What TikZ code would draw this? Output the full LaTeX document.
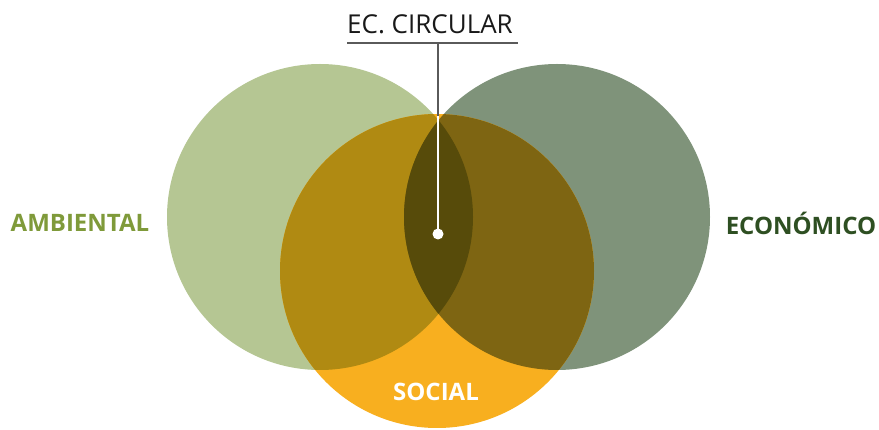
\documentclass[tikz,border=0pt]{standalone}
\usepackage{fontspec}
\setmainfont{Open Sans}
\begin{document}
\definecolor{amb}{HTML}{B5C693}
\definecolor{eco}{HTML}{7F937A}
\definecolor{soc}{HTML}{F8AF1F}
\definecolor{ambsoc}{HTML}{B08A12}
\definecolor{ecosoc}{HTML}{7E6512}
\definecolor{ambeco}{HTML}{6E7A52}
\definecolor{core}{HTML}{574B0A}
\definecolor{ambtext}{HTML}{7F9A3A}
\definecolor{ecotext}{HTML}{2E4F22}
\definecolor{leader}{HTML}{5A5A5A}
\begin{tikzpicture}[x=1pt,y=-1pt,
  label/.style={font=\bfseries\fontsize{24}{28}\selectfont, inner sep=0pt},
  leaderline/.style={draw=leader, line width=2.6pt}]
\useasboundingbox (0,0) rectangle (879,430);
\clip (0,0) rectangle (879,430);
% the three circles
\def\ambpath{(320,217) circle (153)}
\def\ecopath{(557,217) circle (153)}
\def\socpath{(437,271) circle (157)}
\fill[amb] \ambpath;
\fill[eco] \ecopath;
\fill[soc] \socpath;
% pairwise overlaps
\begin{scope}\clip \ambpath; \fill[ambeco] \ecopath; \end{scope}
\begin{scope}\clip \ambpath; \fill[ambsoc] \socpath; \end{scope}
\begin{scope}\clip \ecopath; \fill[ecosoc] \socpath; \end{scope}
% common centre
\begin{scope}\clip \ambpath; \clip \ecopath; \fill[core] \socpath; \end{scope}
% labels
\node[label, text=ambtext] (ambiental) at (80,223) {AMBIENTAL};
\node[label, text=ecotext] (economico) at (801,223) {ECONÓMICO};
\node[label, text=white] (social) at (436,392) {SOCIAL};
\node[font=\fontsize{26}{30}\selectfont, inner sep=0pt, text=black!90] (ec) at (430,24) {EC. CIRCULAR};
% leader from the title down to the common centre
\coordinate (barL) at (347,43);
\coordinate (barR) at (518,43);
\coordinate (stem) at (438,43);
\coordinate (entry) at (438,116);
\coordinate (dot) at (438,234);
\draw[leaderline] (barL) -- (barR);
\draw[leaderline] (stem) -- (entry);
\draw[white, line width=2.6pt] (entry) -- (dot);
\fill[white] (dot) circle (5.5);
\end{tikzpicture}
\end{document}
